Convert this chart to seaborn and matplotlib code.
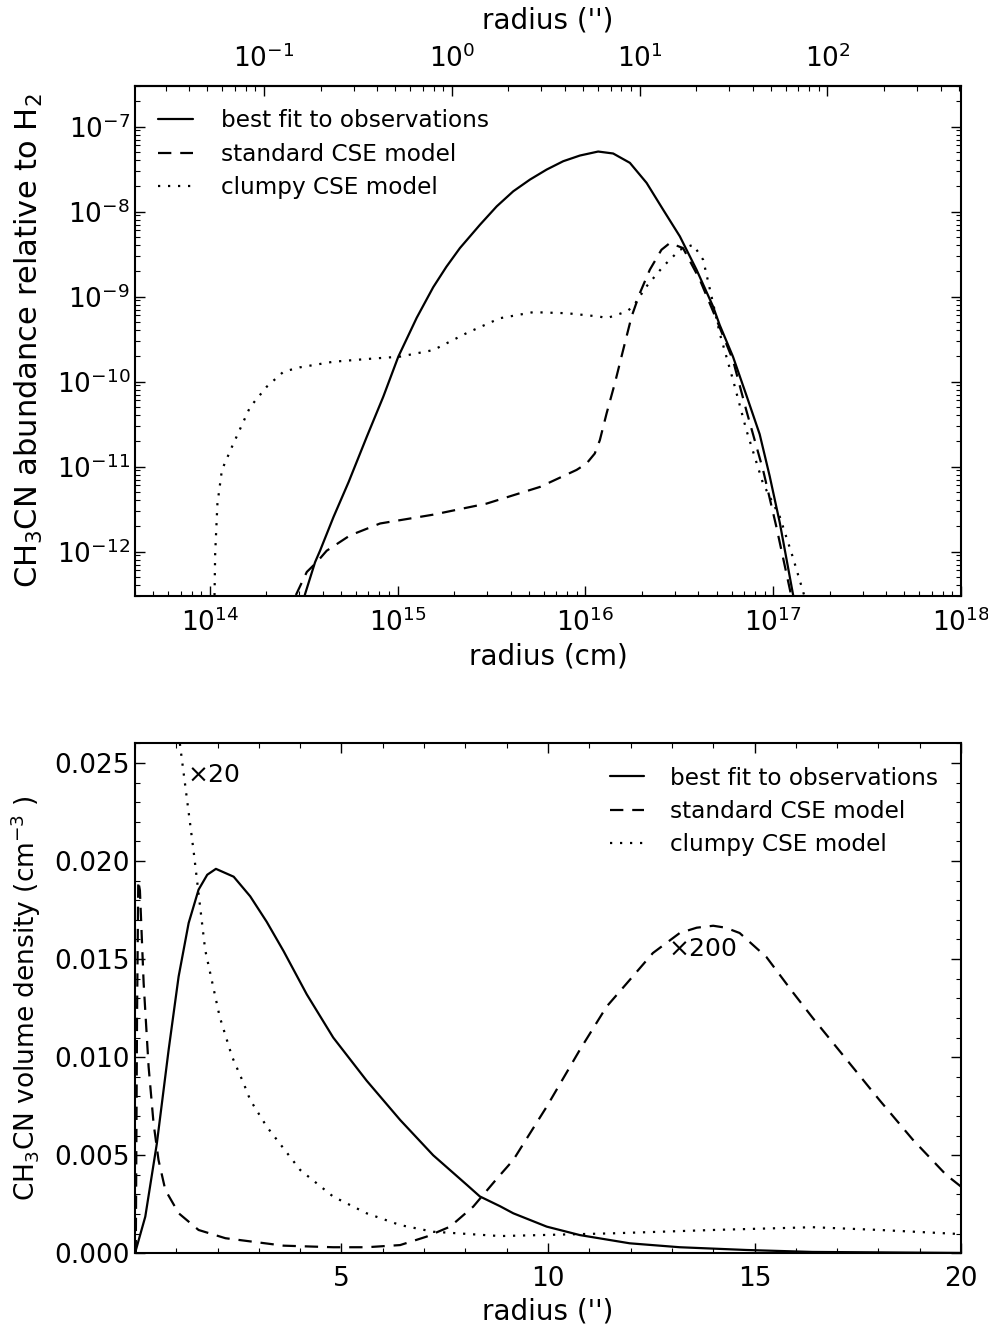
import numpy as np
import matplotlib
matplotlib.use("Agg")
import matplotlib.pyplot as plt
import seaborn as sns
from matplotlib.ticker import MultipleLocator, FormatStrFormatter, FixedLocator, LogLocator, NullFormatter

# ---- top panel: abundance vs radius (log10 values) ----
fit_logr = [14.48, 14.508, 14.561, 14.588, 14.659, 14.74, 14.836, 14.924, 15.004, 15.102,
            15.19, 15.26, 15.332, 15.439, 15.528, 15.616, 15.705, 15.794, 15.882, 15.971,
            16.068, 16.148, 16.237, 16.326, 16.414, 16.503, 16.592, 16.68, 16.715, 16.786,
            16.857, 16.928, 16.981, 17.035, 17.105, 17.13]
fit_logx = [-12.75, -12.498, -12.125, -11.987, -11.594, -11.18, -10.651, -10.179, -9.708, -9.25,
            -8.89, -8.65, -8.43, -8.155, -7.939, -7.762, -7.624, -7.506, -7.408, -7.341,
            -7.294, -7.317, -7.427, -7.663, -7.978, -8.292, -8.685, -9.118, -9.334, -9.708,
            -10.16, -10.62, -11.11, -11.66, -12.498, -12.8]

std_logr = [14.41, 14.455, 14.517, 14.57, 14.623, 14.747, 14.907, 15.19, 15.474, 15.758,
            15.953, 16.006, 16.05, 16.077, 16.113, 16.157, 16.201, 16.246, 16.29, 16.343,
            16.405, 16.45, 16.52, 16.609, 16.698, 16.786, 16.857, 16.946, 17.017, 17.097, 17.12]
std_logx = [-12.75, -12.53, -12.24, -12.125, -11.99, -11.81, -11.67, -11.566, -11.436, -11.24,
            -11.04, -10.965, -10.847, -10.69, -10.375, -10.02, -9.63, -9.236, -8.96, -8.685,
            -8.45, -8.37, -8.43, -8.80, -9.27, -9.75, -10.34, -11.04, -11.71, -12.53, -12.8]

clp_logr = [14.024, 14.029, 14.041, 14.065, 14.118, 14.215, 14.304, 14.393, 14.48, 14.658,
            14.836, 15.013, 15.19, 15.368, 15.545, 15.722, 15.9, 16.077, 16.113, 16.219,
            16.254, 16.325, 16.414, 16.503, 16.574, 16.627, 16.68, 16.715, 16.786, 16.857,
            16.946, 17.035, 17.105, 17.167, 17.19]
clp_logx = [-12.75, -12.03, -11.44, -11.04, -10.77, -10.30, -10.06, -9.884, -9.833, -9.767,
            -9.735, -9.707, -9.63, -9.43, -9.255, -9.184, -9.196, -9.236, -9.255, -9.177,
            -9.118, -8.882, -8.646, -8.45, -8.39, -8.567, -9.08, -9.43, -9.98, -10.57,
            -11.2, -11.59, -12.07, -12.53, -12.75]

# ---- bottom panel: volume density vs radius in arcsec ----
fit_as = [0.0, 0.25, 0.53, 0.815, 1.057, 1.3, 1.54, 1.75, 1.96, 2.39, 2.79, 3.19, 3.6, 4.16,
          4.8, 5.61, 6.42, 7.22, 8.03, 8.35, 8.84, 9.16, 9.97, 10.77, 11.98, 13.19, 14.8,
          16.4, 20.0]
fit_n = [0.0, 0.00187, 0.0056, 0.01037, 0.01411, 0.01684, 0.01854, 0.0193, 0.0196, 0.0192,
         0.0182, 0.0169, 0.0154, 0.0132, 0.0110, 0.0088, 0.0068, 0.0050, 0.0035, 0.0029,
         0.0024, 0.00204, 0.00136, 0.00093, 0.00051, 0.00031, 0.00017, 0.00007, 0.00002]

std_as = [0.02, 0.05, 0.08, 0.12, 0.21, 0.33, 0.45, 0.57, 0.735, 1.06, 1.54, 2.19, 3.6, 4.8,
          5.61, 6.42, 7.06, 7.63, 8.19, 8.76, 9.16, 9.97, 10.77, 11.42, 11.98, 12.54, 13.19,
          13.6, 14.0, 14.3, 14.64, 15.29, 15.93, 16.41, 17.22, 18.03, 18.83, 19.64, 20.0]
std_n = [0.0, 0.012, 0.019, 0.0185, 0.01378, 0.00952, 0.00663, 0.00476, 0.00323, 0.00204,
         0.00119, 0.00077, 0.00039, 0.00031, 0.00031, 0.00042, 0.00085, 0.00136, 0.00238,
         0.0038, 0.00476, 0.00748, 0.01037, 0.01258, 0.01394, 0.01531, 0.01633, 0.0166,
         0.0167, 0.0166, 0.01633, 0.0151, 0.0133, 0.0120, 0.0099, 0.0078, 0.0058, 0.0040,
         0.0034]

clp_as = [1.0, 1.1, 1.22, 1.42, 1.70, 2.05, 2.35, 2.63, 2.79, 3.19, 4.0, 4.8, 5.61, 6.42,
          7.22, 8.84, 11.58, 14.0, 16.41, 18.03, 20.0]
clp_n = [0.0275, 0.02577, 0.0238, 0.0205, 0.01547, 0.01207, 0.01003, 0.00867, 0.00782,
         0.00646, 0.00425, 0.00289, 0.00204, 0.00144, 0.0011, 0.00088, 0.00102, 0.00119,
         0.00133, 0.00119, 0.00098]

labels = ["best fit to observations", "standard CSE model", "clumpy CSE model"]

ARCSEC_CM = 130 * 1.496e13  # 1'' at 130 pc

sns.set_style("ticks")
plt.rcParams["font.family"] = ["DejaVu Sans"]
plt.rcParams.update({
    "xtick.direction": "in", "ytick.direction": "in",
    "xtick.top": True, "ytick.right": True,
    "xtick.major.size": 7, "ytick.major.size": 7,
    "xtick.minor.size": 3.5, "ytick.minor.size": 3.5,
    "xtick.major.width": 1.0, "ytick.major.width": 1.0,
    "xtick.minor.width": 0.8, "ytick.minor.width": 0.8,
    "xtick.major.pad": 9, "xtick.minor.pad": 9,
    "xtick.color": "black", "ytick.color": "black",
    "axes.edgecolor": "black", "axes.linewidth": 1.5,
    "xtick.labelsize": 19, "ytick.labelsize": 19,
    "axes.labelsize": 20, "legend.fontsize": 16.7,
    "text.color": "black", "axes.labelcolor": "black",
})

styles = ["-", (0, (6, 4)), (0, (1, 3.5))]

fig = plt.figure(figsize=(9.88, 13.25), dpi=100)
ax1 = fig.add_axes([0.1366, 0.5502, 0.8361, 0.3849])
ax2 = fig.add_axes([0.1366, 0.0541, 0.8361, 0.3849])

# top panel
ax1.set_xscale("log")
ax1.set_yscale("log")
for lr, lx, ls, lab in [(fit_logr, fit_logx, styles[0], labels[0]),
                        (std_logr, std_logx, styles[1], labels[1]),
                        (clp_logr, clp_logx, styles[2], labels[2])]:
    sns.lineplot(x=np.power(10.0, lr), y=np.power(10.0, lx), ax=ax1, color="black",
                 linewidth=1.6, linestyle=ls, label=lab, sort=False, estimator=None)
ax1.set_xlim(4e13, 1e18)
ax1.set_ylim(3e-13, 3e-7)
ax1.xaxis.set_minor_locator(LogLocator(base=10, subs=np.arange(2, 10), numticks=100))
ax1.yaxis.set_minor_locator(LogLocator(base=10, subs=np.arange(2, 10), numticks=100))
ax1.xaxis.set_minor_formatter(NullFormatter())
ax1.yaxis.set_minor_formatter(NullFormatter())
ax1.tick_params(top=False, which="both")
ax1.set_xlabel("radius (cm)")
ax1.set_ylabel("CH$_3$CN abundance relative to H$_2$", fontsize=22, labelpad=8)
ax1.legend(loc="upper left", frameon=False, handlelength=1.5, handletextpad=1.2,
           borderaxespad=0.6, labelspacing=0.45)

secax = ax1.secondary_xaxis("top", functions=(lambda r: r / ARCSEC_CM, lambda a: a * ARCSEC_CM))
secax.xaxis.set_major_locator(FixedLocator([0.1, 1, 10, 100]))
secax.xaxis.set_minor_locator(LogLocator(base=10, subs=np.arange(2, 10), numticks=100))
secax.xaxis.set_minor_formatter(NullFormatter())
secax.tick_params(which="both", direction="in")
secax.set_xlabel("radius ('')", labelpad=12)

# bottom panel
for xs, ys, ls, lab in [(fit_as, fit_n, styles[0], labels[0]),
                        (std_as, std_n, styles[1], labels[1]),
                        (clp_as, clp_n, styles[2], labels[2])]:
    sns.lineplot(x=xs, y=ys, ax=ax2, color="black", linewidth=1.6, linestyle=ls,
                 label=lab, sort=False, estimator=None)
ax2.set_xlim(0, 20)
ax2.set_ylim(0, 0.026)
ax2.xaxis.set_major_locator(FixedLocator([5, 10, 15, 20]))
ax2.xaxis.set_minor_locator(MultipleLocator(1))
ax2.yaxis.set_major_locator(MultipleLocator(0.005))
ax2.yaxis.set_minor_locator(MultipleLocator(0.001))
ax2.yaxis.set_major_formatter(FormatStrFormatter("%.3f"))
ax2.set_xlabel("radius ('')")
ax2.set_ylabel("CH$_3$CN volume density (cm$^{-3}$ )", fontsize=19, labelpad=8)
ax2.legend(loc="upper right", frameon=False, handlelength=1.5, handletextpad=1.1,
           borderaxespad=0.6, labelspacing=0.45)
ax2.text(1.25, 0.0244, r"$\times$20", fontsize=18, va="center", ha="left")
ax2.text(12.9, 0.0155, r"$\times$200", fontsize=18, va="center", ha="left")

fig.savefig("out.png", dpi=100)
